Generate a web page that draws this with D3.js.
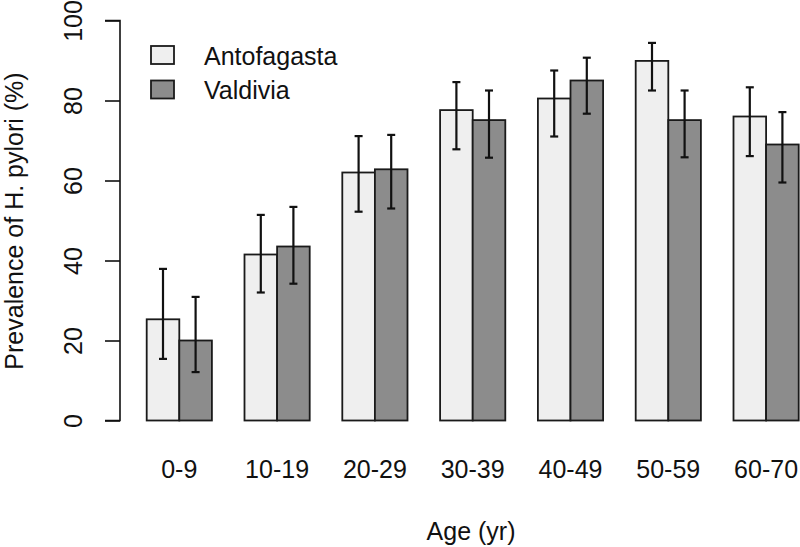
<!DOCTYPE html>
<html><head><meta charset="utf-8">
<script src="https://cdn.jsdelivr.net/npm/d3@7"></script>
<style>body{margin:0;background:#fff}svg{display:block}text{font-family:"Liberation Sans",Arial,sans-serif;fill:#111}</style>
</head><body><svg id="c" width="800" height="547"></svg>
<script>
const categories = ["0-9","10-19","20-29","30-39","40-49","50-59","60-70"];
const seriesNames = ["Antofagasta","Valdivia"];
const antofagasta = [25.3, 41.5, 62.0, 77.6, 80.5, 89.9, 76.0];
const antofagastaLow = [15.4, 32.0, 52.2, 67.8, 71.0, 82.5, 66.1];
const antofagastaHigh = [37.9, 51.4, 71.1, 84.6, 87.5, 94.4, 83.3];
const valdivia = [20.0, 43.5, 62.8, 75.1, 85.0, 75.1, 69.0];
const valdiviaLow = [12.1, 34.2, 53.0, 65.7, 76.7, 65.8, 59.5];
const valdiviaHigh = [30.9, 53.4, 71.4, 82.5, 90.7, 82.5, 77.1];
const yTicks = [0, 20, 40, 60, 80, 100];
const colors = ["#efefef", "#8c8c8c"];
const FS = 25;

const svg = d3.select("#c");
const y = d3.scaleLinear().domain([0, 100]).range([420.5, 20.5]);
const x = d3.scaleLinear().domain([0, 21]).range([114.1, 798.7]);

const series = [
  {vals: antofagasta, lo: antofagastaLow, hi: antofagastaHigh},
  {vals: valdivia, lo: valdiviaLow, hi: valdiviaHigh}
];

// y axis
const yAxis = d3.axisLeft(y).tickValues(yTicks).tickSize(15).tickFormat(d3.format("d"));
const ga = svg.append("g").attr("transform", "translate(120,0)").call(yAxis);
ga.select(".domain").attr("d", "M-15," + y(100) + "H0V" + y(0) + "H-15").attr("stroke", "#111").attr("stroke-width", 1.6);
ga.selectAll(".tick line").attr("stroke", "#111").attr("stroke-width", 1.6);
ga.selectAll(".tick text").remove();
ga.selectAll(".tick").append("text")
  .attr("transform", "translate(-47,0) rotate(-90)")
  .attr("text-anchor", "middle").attr("dy", "0.35em")
  .attr("font-size", FS).attr("fill", "#111")
  .text(d => d);

// bars
series.forEach((s, j) => {
  svg.append("g").selectAll("rect").data(s.vals).join("rect")
    .attr("x", (d, i) => x(1 + 3 * i + j))
    .attr("width", x(1) - x(0))
    .attr("y", d => y(d))
    .attr("height", d => y(0) - y(d))
    .attr("fill", colors[j]).attr("stroke", "#1a1a1a").attr("stroke-width", 1.8);
});

// error bars
series.forEach((s, j) => {
  const g = svg.append("g").attr("stroke", "#111").attr("stroke-width", 2.2);
  s.vals.forEach((d, i) => {
    const cx = x(1.5 + 3 * i + j);
    g.append("line").attr("x1", cx).attr("x2", cx).attr("y1", y(s.lo[i])).attr("y2", y(s.hi[i]));
    g.append("line").attr("x1", cx - 4).attr("x2", cx + 4).attr("y1", y(s.lo[i])).attr("y2", y(s.lo[i]));
    g.append("line").attr("x1", cx - 4).attr("x2", cx + 4).attr("y1", y(s.hi[i])).attr("y2", y(s.hi[i]));
  });
});

// x category labels
svg.append("g").selectAll("text").data(categories).join("text")
  .attr("x", (d, i) => x(2 + 3 * i))
  .attr("y", 478)
  .attr("text-anchor", "middle").attr("font-size", FS)
  .text(d => d);

// axis titles
svg.append("text").attr("x", 471).attr("y", 540).attr("text-anchor", "middle").attr("font-size", FS).text("Age (yr)");
svg.append("text").attr("transform", "translate(23,221) rotate(-90)").attr("text-anchor", "middle").attr("font-size", FS).text("Prevalence of H. pylori (%)");

// legend
const lg = svg.append("g");
seriesNames.forEach((n, j) => {
  const yy = 46 + j * 34.5;
  lg.append("rect").attr("x", 151).attr("y", yy).attr("width", 23).attr("height", 18)
    .attr("fill", colors[j]).attr("stroke", "#1a1a1a").attr("stroke-width", 1.8);
  lg.append("text").attr("x", 204).attr("y", yy + 18.5).attr("font-size", FS).text(n);
});
</script></body></html>
